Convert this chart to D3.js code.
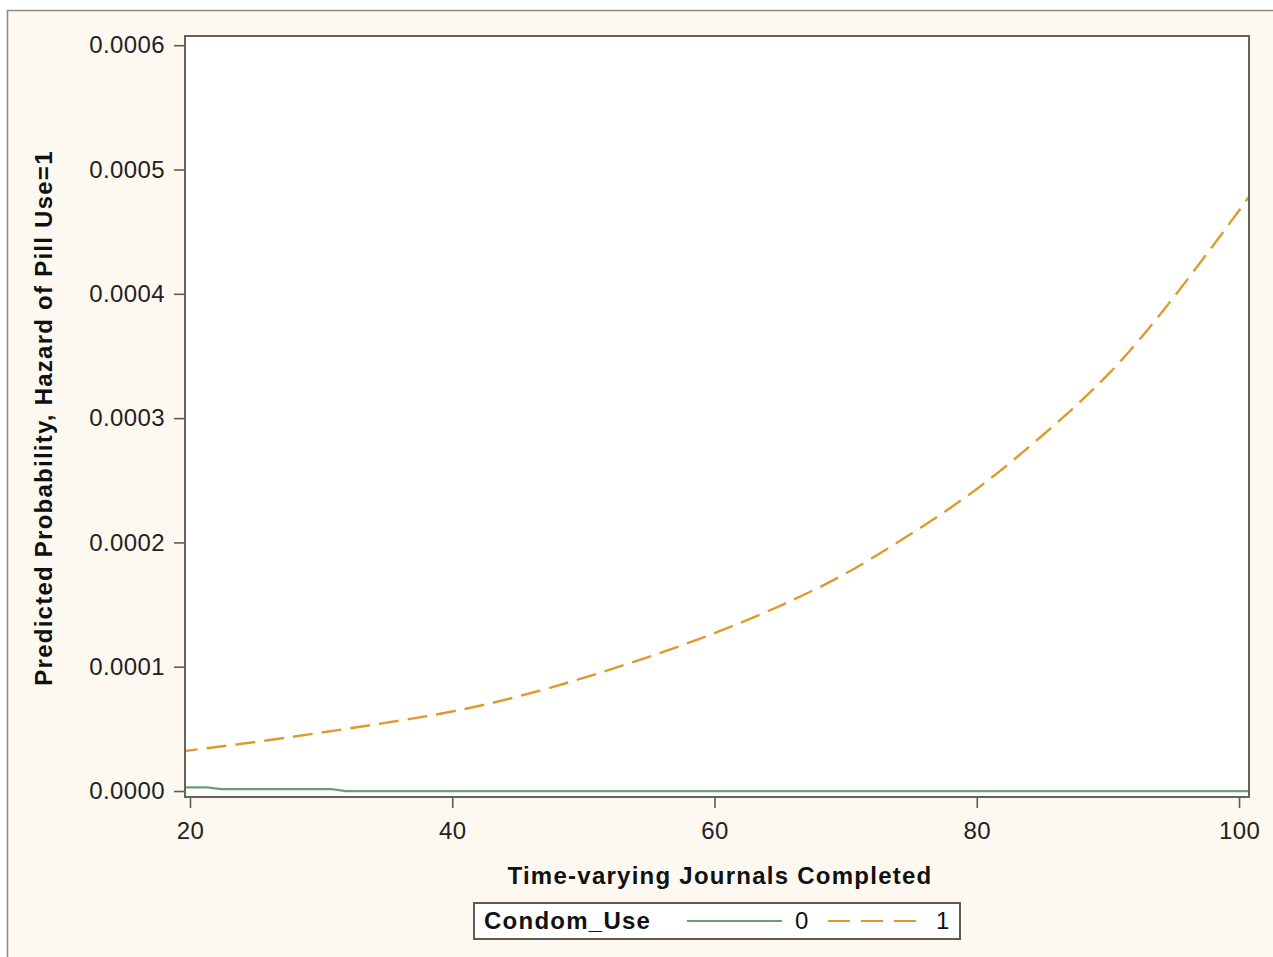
<!DOCTYPE html>
<html>
<head>
<meta charset="utf-8">
<script src="https://cdn.jsdelivr.net/npm/d3@7"></script>
<style>
  body { margin: 0; background: #ffffff; }
  svg { display: block; font-family: "Liberation Sans", Arial, sans-serif; }
</style>
</head>
<body>
<svg></svg>
<script>
const width = 1273;
const height = 957;

// Condom_Use = 1 (orange dashed)
const journals1 = [19.6, 20, 25, 30, 35, 40, 45, 50, 55, 60, 65, 70, 75, 80, 85, 90, 95, 100, 100.76];
const hazard1 = [0.0000322, 0.0000327, 0.0000395, 0.000047, 0.000055, 0.000064, 0.000076, 0.000091, 0.000108, 0.000127,
  0.000149, 0.000175, 0.000207, 0.000243, 0.000286, 0.000335, 0.000397, 0.000467, 0.000479];

// Condom_Use = 0 (green solid)
const journals0 = [19.6, 21.3, 22.4, 30.8, 31.9, 100.76];
const hazard0 = [0.000003, 0.000003, 0.0000016, 0.0000016, 0, 0];

const yTicks = [0, 0.0001, 0.0002, 0.0003, 0.0004, 0.0005, 0.0006];
const xTicks = [20, 40, 60, 80, 100];
const legendItems = ['0', '1'];

const plot = { left: 185, top: 36, right: 1249, bottom: 797 };

const svg = d3.select('svg')
  .attr('width', width)
  .attr('height', height);

// outer panel
svg.append('rect')
  .attr('x', 7.5)
  .attr('y', 10.5)
  .attr('width', width + 10)
  .attr('height', height + 10)
  .attr('fill', '#fdf9f1')
  .attr('stroke', '#8e8b86')
  .attr('stroke-width', 1.5);

const xScale = d3.scaleLinear()
  .domain([19.62, 100.76])
  .range([plot.left, plot.right]);

const yScale = d3.scaleLinear()
  .domain([-0.0000048, 0.0006074])
  .range([plot.bottom, plot.top]);

// plot background
svg.append('rect')
  .attr('x', plot.left)
  .attr('y', plot.top)
  .attr('width', plot.right - plot.left)
  .attr('height', plot.bottom - plot.top)
  .attr('fill', '#ffffff');

svg.append('clipPath').attr('id', 'clip')
  .append('rect')
  .attr('x', plot.left)
  .attr('y', plot.top)
  .attr('width', plot.right - plot.left)
  .attr('height', plot.bottom - plot.top);

const line = d3.line()
  .x(d => xScale(d[0]))
  .y(d => yScale(d[1]));

const g = svg.append('g').attr('clip-path', 'url(#clip)');

g.append('path')
  .datum(journals0.map((x, i) => [x, hazard0[i]]))
  .attr('d', line.curve(d3.curveLinear))
  .attr('fill', 'none')
  .attr('stroke', '#6e9c76')
  .attr('stroke-width', 2.2);

g.append('path')
  .datum(journals1.map((x, i) => [x, hazard1[i]]))
  .attr('d', line.curve(d3.curveNatural))
  .attr('fill', 'none')
  .attr('stroke', '#e09a2c')
  .attr('stroke-width', 2.4)
  .attr('stroke-dasharray', '20,9');

// axes
const xAxis = d3.axisBottom(xScale)
  .tickValues(xTicks)
  .tickSize(11)
  .tickSizeOuter(0)
  .tickPadding(14)
  .tickFormat(d3.format('d'));

const yAxis = d3.axisLeft(yScale)
  .tickValues(yTicks)
  .tickSize(11)
  .tickSizeOuter(0)
  .tickPadding(9)
  .tickFormat(d3.format('.4f'));

const gx = svg.append('g')
  .attr('transform', 'translate(0,' + plot.bottom + ')')
  .call(xAxis);

const gy = svg.append('g')
  .attr('transform', 'translate(' + plot.left + ',0)')
  .call(yAxis);

[gx, gy].forEach(a => {
  a.select('.domain').remove();
  a.selectAll('line').attr('stroke', '#5f5a52').attr('stroke-width', 1.6);
  a.selectAll('text')
    .attr('fill', '#222')
    .style('font-size', '24px')
    .style('letter-spacing', '0.4px')
    .style('font-family', '"Liberation Sans", Arial, sans-serif');
});
gx.selectAll('text').attr('dy', '0.71em');

// plot frame
svg.append('rect')
  .attr('x', plot.left)
  .attr('y', plot.top)
  .attr('width', plot.right - plot.left)
  .attr('height', plot.bottom - plot.top)
  .attr('fill', 'none')
  .attr('stroke', '#67625a')
  .attr('stroke-width', 2);

// axis titles
svg.append('text')
  .attr('x', 720)
  .attr('y', 884)
  .attr('text-anchor', 'middle')
  .style('font-size', '24px')
  .style('font-weight', 'bold')
  .style('letter-spacing', '1.25px')
  .attr('fill', '#111')
  .text('Time-varying Journals Completed');

svg.append('text')
  .attr('transform', 'translate(52,418) rotate(-90)')
  .attr('text-anchor', 'middle')
  .style('font-size', '24px')
  .style('font-weight', 'bold')
  .style('letter-spacing', '1.25px')
  .attr('fill', '#111')
  .text('Predicted Probability, Hazard of Pill Use=1');

// legend
const legend = svg.append('g').attr('transform', 'translate(474,903)');

legend.append('rect')
  .attr('width', 486)
  .attr('height', 36)
  .attr('fill', '#ffffff')
  .attr('stroke', '#5f5a52')
  .attr('stroke-width', 2);

legend.append('text')
  .attr('x', 10)
  .attr('y', 26)
  .style('font-size', '24px')
  .style('font-weight', 'bold')
  .style('letter-spacing', '1.25px')
  .attr('fill', '#111')
  .text('Condom_Use');

const legendStyles = [
  { x: 213, len: 95, stroke: '#6e9c76', dash: null },
  { x: 354, len: 88, stroke: '#e09a2c', dash: '22,11' }
];

const item = legend.selectAll('.item')
  .data(legendItems)
  .enter().append('g')
  .attr('class', 'item')
  .attr('transform', (d, i) => 'translate(' + legendStyles[i].x + ',0)');

item.append('line')
  .attr('x1', 0)
  .attr('x2', (d, i) => legendStyles[i].len)
  .attr('y1', 18)
  .attr('y2', 18)
  .attr('stroke', (d, i) => legendStyles[i].stroke)
  .attr('stroke-width', 2.2)
  .attr('stroke-dasharray', (d, i) => legendStyles[i].dash);

item.append('text')
  .attr('x', 108)
  .attr('y', 26)
  .style('font-size', '24px')
  .attr('fill', '#111')
  .text(d => d);
</script>
</body>
</html>
